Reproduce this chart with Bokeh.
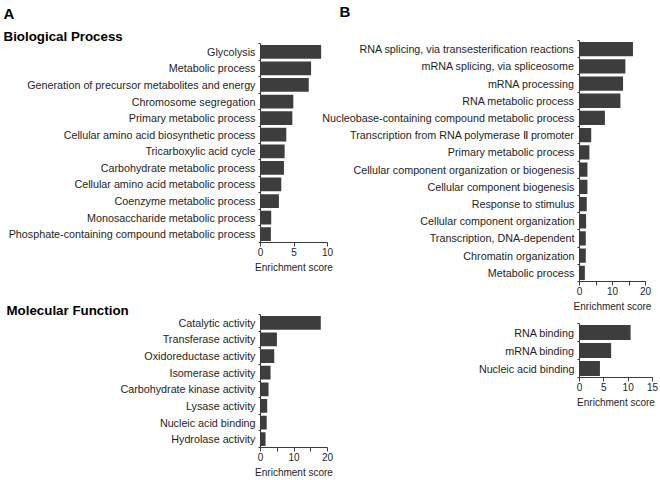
from bokeh.plotting import figure
from bokeh.models import Range1d, FixedTicker, Title
from bokeh.layouts import column, row
from bokeh.embed import file_html
from bokeh.resources import INLINE

# ---------------- data ----------------
a_bp_terms = [
    "Glycolysis",
    "Metabolic process",
    "Generation of precursor metabolites and energy",
    "Chromosome segregation",
    "Primary metabolic process",
    "Cellular amino acid biosynthetic process",
    "Tricarboxylic acid cycle",
    "Carbohydrate metabolic process",
    "Cellular amino acid metabolic process",
    "Coenzyme metabolic process",
    "Monosaccharide metabolic process",
    "Phosphate-containing compound metabolic process",
]
a_bp_scores = [9.05, 7.55, 7.2, 4.9, 4.75, 3.85, 3.6, 3.5, 3.1, 2.75, 1.6, 1.55]

a_mf_terms = [
    "Catalytic activity",
    "Transferase activity",
    "Oxidoreductase activity",
    "Isomerase activity",
    "Carbohydrate kinase activity",
    "Lysase activity",
    "Nucleic acid binding",
    "Hydrolase activity",
]
a_mf_scores = [18.0, 4.9, 4.1, 3.0, 2.4, 2.0, 1.85, 1.5]

b_bp_terms = [
    "RNA splicing, via transesterification reactions",
    "mRNA splicing, via spliceosome",
    "mRNA processing",
    "RNA metabolic process",
    "Nucleobase-containing compound metabolic process",
    "Transcription from RNA polymerase \u2161 promoter",
    "Primary metabolic process",
    "Cellular component organization or biogenesis",
    "Cellular component biogenesis",
    "Response to stimulus",
    "Cellular component organization",
    "Transcription, DNA-dependent",
    "Chromatin organization",
    "Metabolic process",
]
b_bp_scores = [16.2, 13.9, 13.2, 12.4, 7.7, 3.55, 3.0, 2.4, 2.4, 2.2, 2.0, 1.9, 1.9, 1.63]

b_mf_terms = ["RNA binding", "mRNA binding", "Nucleic acid binding"]
b_mf_scores = [10.5, 6.5, 4.2]

a_bp_ticks, a_bp_minor, a_bp_max = [0, 5, 10], [], 10
a_mf_ticks, a_mf_minor, a_mf_max = [0, 10, 20], [5, 15], 20
b_bp_ticks, b_bp_minor, b_bp_max = [0, 10, 20], [5, 15], 20
b_mf_ticks, b_mf_minor, b_mf_max = [0, 5, 10, 15], [], 15

axis_title = "Enrichment score"

FONT = "Liberation Sans"
BAR = "#3d3d3d"
AXIS = "#3a3a3a"
TXT = "#1e1e1e"


def panel(terms, scores, xmax, ticks, minor, width, height, bl, br, bt, bb):
    n = len(terms)
    # category slots: first term on top, one unit per category
    ypos = [n - i - 0.5 for i in range(n)]
    p = figure(
        width=width, height=height,
        y_range=Range1d(0, n),
        x_range=Range1d(0, xmax),
        output_backend="svg", toolbar_location=None, title=None,
        min_border_left=bl, min_border_right=br,
        min_border_top=bt, min_border_bottom=bb,
    )
    p.hbar(y=ypos, left=0, right=scores, height=0.83,
           fill_color=BAR, line_color=None)
    p.outline_line_color = None
    p.border_fill_color = None
    p.background_fill_color = None
    p.xgrid.visible = False
    p.ygrid.visible = False

    xa = p.xaxis[0]
    xa.ticker = FixedTicker(ticks=ticks, minor_ticks=minor)
    xa.axis_label = axis_title
    xa.axis_label_text_font = FONT
    xa.axis_label_text_font_style = "normal"
    xa.axis_label_text_font_size = "10px"
    xa.axis_label_text_color = TXT
    xa.axis_label_standoff = 3
    xa.major_label_text_font = FONT
    xa.major_label_text_font_size = "10px"
    xa.major_label_text_color = TXT
    xa.major_label_standoff = 1
    xa.major_tick_out = 4
    xa.major_tick_in = 0
    xa.minor_tick_out = 4
    xa.minor_tick_in = 0
    xa.axis_line_color = AXIS
    xa.major_tick_line_color = AXIS
    xa.minor_tick_line_color = AXIS

    ya = p.yaxis[0]
    ya.ticker = FixedTicker(ticks=ypos, minor_ticks=list(range(n + 1)))
    ya.major_label_overrides = {y: t for y, t in zip(ypos, terms)}
    ya.major_label_text_font = FONT
    ya.major_label_text_font_size = "10.75px"
    ya.major_label_text_color = TXT
    ya.major_label_standoff = 3
    ya.major_tick_out = 0
    ya.major_tick_in = 0
    ya.minor_tick_out = 2
    ya.minor_tick_in = 0
    ya.minor_tick_line_color = AXIS
    ya.axis_line_color = AXIS
    return p


def add_title(p, text, size, offset, standoff=0, valign="bottom"):
    p.add_layout(Title(text=text, text_font=FONT, text_font_size=size,
                       text_font_style="bold", text_color="#000000",
                       align="left", offset=offset, standoff=standoff,
                       vertical_align=valign), "above")


# left column (A)
pa1 = panel(a_bp_terms, a_bp_scores, a_bp_max, a_bp_ticks, a_bp_minor,
            335, 275, 260, 8, 43, 32)
add_title(pa1, "Biological Process", "13.33px", -257)
add_title(pa1, "A", "15px", -257, standoff=6, valign="top")

pa2 = panel(a_mf_terms, a_mf_scores, a_mf_max, a_mf_ticks, a_mf_minor,
            335, 205, 257, 6, 39, 30)
add_title(pa2, "Molecular Function", "13.33px", -254, standoff=-6)

# right column (B)
pb1 = panel(b_bp_terms, b_bp_scores, b_bp_max, b_bp_ticks, b_bp_minor,
            334, 314, 257, 8, 40, 30)
add_title(pb1, " ", "13.33px", -240)
add_title(pb1, "B", "15px", -240, standoff=3, valign="top")

pb2 = panel(b_mf_terms, b_mf_scores, b_mf_max, b_mf_ticks, b_mf_minor,
            341, 96, 254, 6, 9, 30)

left = column(pa1, pa2)
right = column(pb1, pb2)
right.margin = (0, 0, 0, -16)
layout = row(left, right)

open("out.html", "w").write(file_html(layout, INLINE))
